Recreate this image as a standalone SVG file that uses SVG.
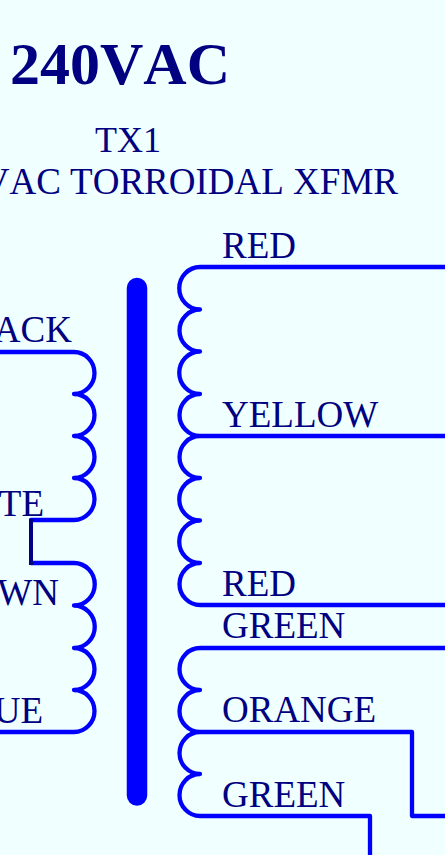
<svg xmlns="http://www.w3.org/2000/svg" width="445" height="855" viewBox="0 0 445 855">
<style>
text{font-family:"Liberation Serif","Times New Roman",serif;fill:#000080;font-size:37px;font-kerning:none}
.w{fill:none;stroke:#0000ff;stroke-width:4.300;stroke-linecap:round;stroke-linejoin:round}
.e{text-anchor:end}
</style>
<rect width="445" height="855" fill="#f0ffff"/>
<g id="title"><text x="10" y="84" style="font-size:60px;font-weight:bold">240VAC</text></g>
<g id="tx1-label"><text x="95" y="152" style="font-size:36px">TX1</text><text x="398" y="194" class="e">240VAC TORROIDAL XFMR</text></g>
<g id="core"><line x1="137" y1="288" x2="137" y2="795.500" stroke="#0000ff" stroke-width="20.500" stroke-linecap="round"/></g>
<g id="primary-1"><path class="w" d="M-5 352H74A20.500 21 0 0 1 74 394A20.500 21 0 0 1 74 436A20.500 21 0 0 1 74 478A20.500 21 0 0 1 74 520H31"/>
<text x="72" y="342" class="e">BLACK</text><text x="44" y="516" class="e">WHITE</text></g>
<g id="primary-2"><path class="w" d="M-5 732H74A20.500 21 0 0 0 74 690A20.500 21 0 0 0 74 648A20.500 21 0 0 0 74 605.500A20.500 21 0 0 0 74 563H31"/>
<text x="59" y="605" class="e">BROWN</text><text x="43" y="723" class="e">BLUE</text></g>
<g id="secondary-1"><path class="w" d="M450 267H200A20.500 21 0 0 0 200 309.500A20.500 21 0 0 0 200 351.500A20.500 21 0 0 0 200 394A20.500 21 0 0 0 200 436H450M200 436A20.500 21 0 0 0 200 478A20.500 21 0 0 0 200 520.500A20.500 21 0 0 0 200 563A20.500 21 0 0 0 200 605H450"/>
<text x="222" y="258">RED</text><text x="222" y="427">YELLOW</text><text x="222" y="596">RED</text></g>
<g id="secondary-2"><path class="w" d="M450 648H200A20.500 21 0 0 0 200 690A20.500 21 0 0 0 200 732H412V816H450M200 732A20.500 21 0 0 0 200 774A20.500 21 0 0 0 200 816H370V860"/>
<text x="222" y="638">GREEN</text><text x="222" y="722">ORANGE</text><text x="222" y="807">GREEN</text></g>
<g id="connectors"><path d="M31 519V565" fill="none" stroke="#000080" stroke-width="4"/></g>
</svg>
